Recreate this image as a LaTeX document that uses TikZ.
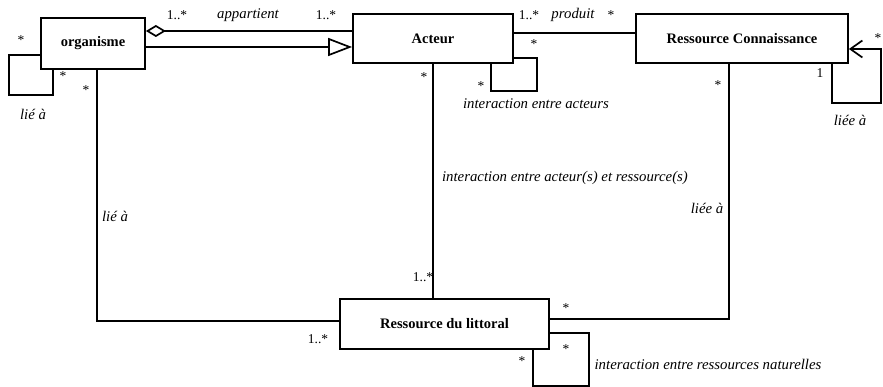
\documentclass[tikz,border=0pt]{standalone}
\usepackage{fontspec}
\setmainfont{Liberation Serif}
\usetikzlibrary{arrows.meta,positioning}

\begin{document}
\begin{tikzpicture}[
			x=1pt, y=-1pt,
			classe/.style={
				rectangle,
				draw=black,
				line width=1.8pt,
				fill=white,
				inner sep=0pt,
				align=center,
				font=\fontsize{14.5}{16}\selectfont\bfseries
			},
			lien/.style={
				line width=1.7pt,
				draw=black
			},
			agreg/.style={lien, {Diamond[open,length=20pt,width=12pt]}-},
			herit/.style={lien, -{Triangle[open,length=24pt,width=18pt]}},
			navig/.style={lien, -{Straight Barb[length=12pt,width=17pt]}},
			mult/.style={inner sep=0pt, font=\fontsize{13.5}{15}\selectfont},
			role/.style={inner sep=0pt, font=\fontsize{14.8}{17}\selectfont\itshape}
			]
			\useasboundingbox (0,0) rectangle (883,387);
			
			% 类
			\node[classe, minimum width=104pt, minimum height=51pt] (org) at (93,43.5) {organisme};
			\node[classe, minimum width=160pt, minimum height=49pt] (act) at (433,38.5) {Acteur};
			\node[classe, minimum width=212pt, minimum height=49pt] (rc) at (742,38.5) {Ressource Connaissance};
			\node[classe, minimum width=209pt, minimum height=50pt] (rdl) at (444.5,324) {Ressource du littoral};
			
			% 关联
			\draw[agreg] ([yshift=12.5pt]org.east) -- ([yshift=7.5pt]act.west);
			\draw[herit] ([yshift=-3.5pt]org.east) -- ([yshift=-8.5pt]act.west);
			\draw[lien] ([yshift=5.5pt]act.east) -- ([yshift=5.5pt]rc.west);
			\draw[lien] (act.south) -- (act.south |- rdl.north);
			\draw[lien] ([xshift=4pt]org.south) |- ([yshift=3pt]rdl.west);
			\draw[lien] ([xshift=-13pt]rc.south) |- ([yshift=5pt]rdl.east);
			
			% 自关联
			\draw[lien] ([yshift=-11.5pt]org.west) -- ++(-31,0) -- ++(0,40) -| ([xshift=-40pt]org.south);
			\draw[lien] ([xshift=58pt]act.south) -- ++(0,27) -- ++(46,0) |- ([yshift=-19.5pt]act.east);
			\draw[navig] ([xshift=90pt]rc.south) -- ++(0,39) -- ++(49,0) |- ([yshift=-10.5pt]rc.east);
			\draw[lien] ([xshift=88.5pt]rdl.south) -- ++(0,36) -- ++(56,0) |- ([yshift=-9pt]rdl.east);
			
			% 标签
			\node[mult] (m1) at (21,40) {*};
			\node[mult] (m2) at (63,76) {*};
			\node[role] (r1) at (33,114) {lié à};
			\node[mult] (m3) at (177,15) {1..*};
			\node[role] (r2) at (248,15) {appartient};
			\node[mult] (m4) at (326,15) {1..*};
			\node[mult] (m5) at (86,90) {*};
			\node[role] (r3) at (115,216) {lié à};
			\node[mult] (m6) at (318,339) {1..*};
			\node[mult] (m7) at (424,77) {*};
			\node[mult] (m8) at (423,277) {1..*};
			\node[role] (r4) at (565,178) {interaction entre acteur(s) et ressource(s)};
			\node[mult] (m9) at (529,15) {1..*};
			\node[role] (r5) at (573,15) {produit};
			\node[mult] (m10) at (611,15) {*};
			\node[mult] (m11) at (534,44) {*};
			\node[mult] (m12) at (481,86) {*};
			\node[role] (r6) at (536,104) {interaction entre acteurs};
			\node[mult] (m13) at (718,85) {*};
			\node[mult] (m14) at (820,73) {1};
			\node[mult] (m15) at (878,38) {*};
			\node[role] (r7) at (850,120) {liée à};
			\node[role] (r8) at (707,208) {liée à};
			\node[mult] (m16) at (566,308) {*};
			\node[mult] (m17) at (566,349) {*};
			\node[mult] (m18) at (522,361) {*};
			\node[role] (r9) at (708,364) {interaction entre ressources naturelles};
		\end{tikzpicture}
\end{document}
